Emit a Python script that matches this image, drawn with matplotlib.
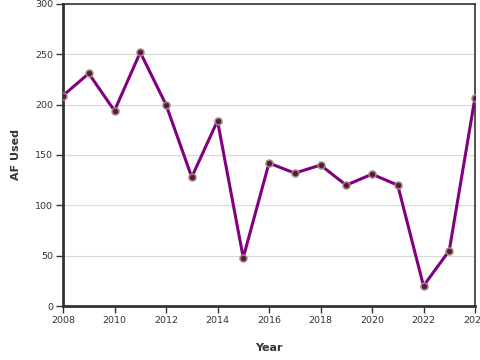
import matplotlib.pyplot as plt

years = [2008, 2009, 2010, 2011, 2012, 2013, 2014, 2015, 2016,
         2017, 2018, 2019, 2020, 2021, 2022, 2023, 2024]
af_used = [209, 231, 194, 252, 200, 128, 184, 48, 142,
           132, 140, 120, 131, 120, 20, 55, 207]
x_ticks = [2008, 2010, 2012, 2014, 2016, 2018, 2020, 2022, 2024]
y_ticks = [0, 50, 100, 150, 200, 250, 300]

fig = plt.figure(figsize=(4.8, 3.6), dpi=100)
ax = fig.add_axes([63 / 480, 1 - 306 / 360, (475 - 63) / 480, (306 - 4) / 360])

ax.plot(years, af_used, color="#800080", lw=2.2, zorder=3,
        marker="o", ms=5, mfc="#5e1450", mec="#9c8f6e", mew=1.1)

ax.set_xlim(2008, 2024)
ax.set_ylim(0, 300)
ax.set_xticks(x_ticks)
ax.set_yticks(y_ticks)
ax.grid(axis="y", color="#d9d9d9", lw=0.8)
ax.set_axisbelow(True)

for side in ["left", "bottom"]:
    ax.spines[side].set_linewidth(2)
    ax.spines[side].set_color("#333333")
for side in ["top", "right"]:
    ax.spines[side].set_linewidth(1.2)
    ax.spines[side].set_color("#333333")

ax.tick_params(axis="both", length=5, width=1, color="#333333",
               labelsize=6.8, labelcolor="#333333", pad=2)
ax.set_xlabel("Year", fontsize=8, fontweight="bold", color="#333333", labelpad=13)
ax.set_ylabel("AF Used", fontsize=8, fontweight="bold", color="#333333", labelpad=10.5)

fig.savefig("out.png", dpi=100)
